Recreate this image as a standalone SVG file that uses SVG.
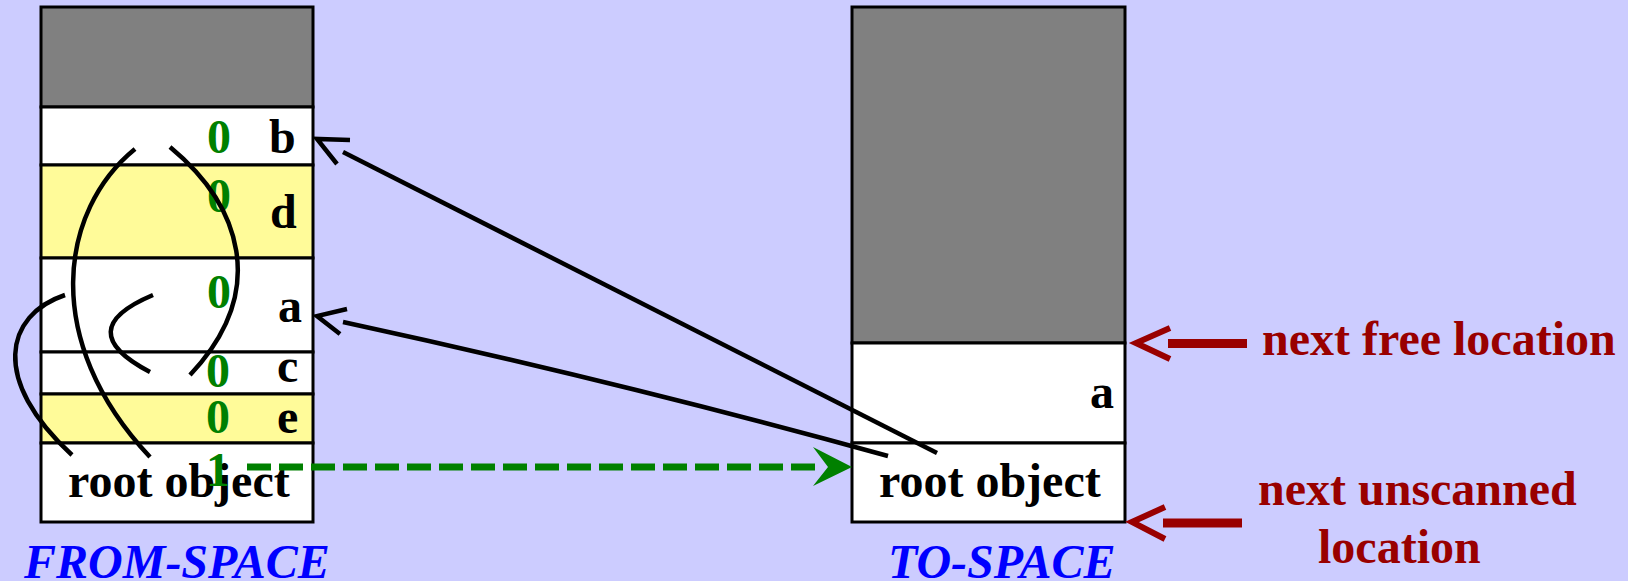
<svg xmlns="http://www.w3.org/2000/svg" width="1628" height="581" viewBox="0 0 1628 581">
<defs>
<style>
.box{stroke:#000;stroke-width:3}
.gray{fill:#808080}
.white{fill:#fff}
.yellow{fill:#FFFB99}
.t{font-family:"Liberation Serif","Times New Roman",serif;font-weight:bold;font-size:48px}
.blk{fill:#000}
.grn{fill:#008000}
.red{fill:#990000}
.cap{fill:#0000FF;font-style:italic}
.ptr{fill:none;stroke:#000;stroke-width:4.5}
.redarrow{fill:none;stroke:#990000}
</style>
</defs>
<rect width="1628" height="581" fill="#CCCCFF"/>

<g id="from-space">
<rect class="box gray" x="41" y="7" width="272" height="100"/>
<rect class="box white" x="41" y="107" width="272" height="58"/>
<rect class="box yellow" x="41" y="165" width="272" height="93"/>
<rect class="box white" x="41" y="258" width="272" height="94"/>
<rect class="box white" x="41" y="352" width="272" height="42"/>
<rect class="box yellow" x="41" y="394" width="272" height="49"/>
<rect class="box white" x="41" y="443" width="272" height="79"/>
<text class="t grn" x="207" y="153">0</text>
<text class="t blk" x="269" y="153">b</text>
<text class="t grn" x="207" y="212">0</text>
<text class="t blk" x="270" y="228">d</text>
<text class="t grn" x="207" y="308">0</text>
<text class="t blk" x="278" y="322">a</text>
<text class="t grn" x="206" y="387">0</text>
<text class="t blk" x="277" y="382">c</text>
<text class="t grn" x="206" y="433">0</text>
<text class="t blk" x="277" y="433">e</text>
<text class="t blk" x="68" y="497">root object</text>
<text class="t grn" x="206" y="486">1</text>
<text class="t cap" x="24" y="578">FROM-SPACE</text>
</g>

<g id="to-space">
<rect class="box gray" x="852" y="7" width="273" height="336"/>
<rect class="box white" x="852" y="343" width="273" height="100"/>
<rect class="box white" x="852" y="443" width="273" height="79"/>
<text class="t blk" x="1090" y="408">a</text>
<text class="t blk" x="879" y="497">root object</text>
<text class="t cap" x="888" y="578">TO-SPACE</text>
</g>

<g id="labels">
<text class="t red" x="1262" y="355">next free location</text>
<text class="t red" x="1258" y="505">next unscanned</text>
<text class="t red" x="1318" y="563">location</text>
</g>

<g id="connectors">
<path class="ptr" d="M135,149 C60,210 40,340 150,457"/>
<path class="ptr" d="M170,147 C240,205 270,290 190,375"/>
<path class="ptr" d="M153,295 Q70,330 150,372"/>
<path class="ptr" d="M65,295 C5,315 -10,380 72,455"/>
<path class="ptr" d="M343,152 L937,453"/>
<polyline class="ptr" points="350,140 317,139 337,164"/>
<path class="ptr" d="M343,322 Q620,382 888,456"/>
<polyline class="ptr" points="347,309 317,316 340,334"/>
<line x1="247" y1="467" x2="815" y2="467" stroke="#008000" stroke-width="7" stroke-dasharray="24 8"/>
<polygon points="852,467 813,447 828,467 813,486" fill="#008000"/>
<polyline class="redarrow" stroke-width="6" points="1170,328 1136,343 1170,359"/>
<line x1="1168" y1="343.5" x2="1247" y2="343.5" stroke="#990000" stroke-width="9"/>
<polyline class="redarrow" stroke-width="6" points="1165,507 1132,522 1165,539"/>
<line x1="1163" y1="523" x2="1242" y2="523" stroke="#990000" stroke-width="9"/>
</g>
</svg>
